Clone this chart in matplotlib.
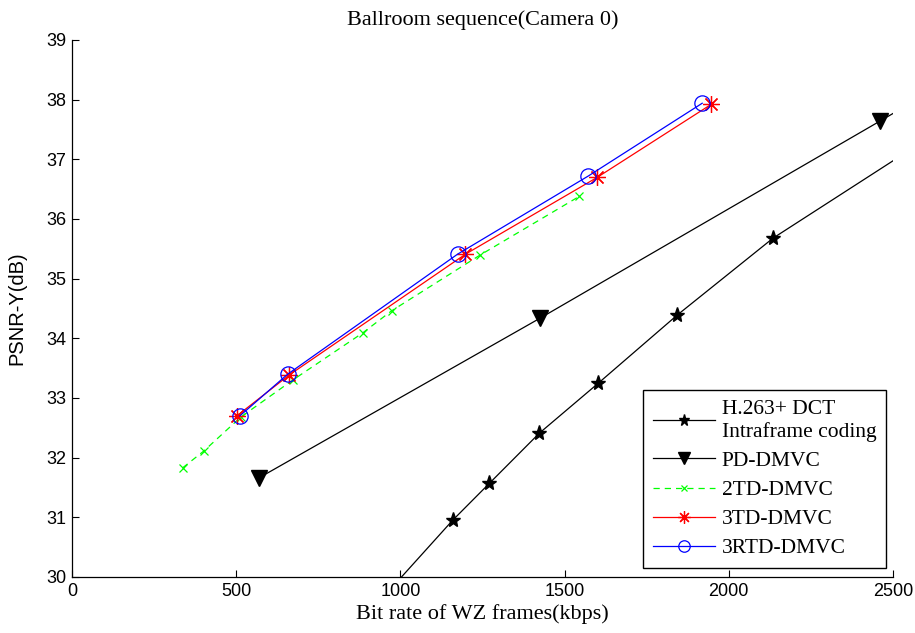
import matplotlib
matplotlib.use("Agg")
import matplotlib.pyplot as plt
from matplotlib import font_manager

# ---- data ----
h263_x = [900, 1159, 1271, 1423, 1603, 1843, 2135, 2600]
h263_y = [29.37, 30.95, 31.57, 32.41, 33.25, 34.39, 35.68, 37.33]

pd_x = [569, 1426, 2460, 2700]
pd_y = [31.66, 34.34, 37.64, 38.41]

td2_x = [337, 401, 514, 672, 885, 973, 1241, 1545]
td2_y = [31.83, 32.11, 32.68, 33.30, 34.09, 34.46, 35.39, 36.38]

td3_x = [502, 660, 1198, 1600, 1946]
td3_y = [32.70, 33.38, 35.41, 36.70, 37.92]

rtd3_x = [511, 657, 1174, 1572, 1919]
rtd3_y = [32.70, 33.40, 35.41, 36.72, 37.94]

labels = ["H.263+ DCT\nIntraframe coding", "PD-DMVC", "2TD-DMVC", "3TD-DMVC", "3RTD-DMVC"]
xticks = [0, 500, 1000, 1500, 2000, 2500]
yticks = [30, 31, 32, 33, 34, 35, 36, 37, 38, 39]

avail = {f.name for f in font_manager.fontManager.ttflist}
tick_font = "Liberation Sans Narrow" if "Liberation Sans Narrow" in avail else "Liberation Sans"
serif = "Liberation Serif"

fig = plt.figure(figsize=(9.15, 6.33), dpi=100)
ax = fig.add_axes([72/915, 1-577/633, (893-72)/915, (577-40)/633])

lw = 0.9
ax.plot(h263_x, h263_y, color="black", lw=lw, marker="*", ms=11, mfc="black", mec="black", label=labels[0])
ax.plot(pd_x, pd_y, color="black", lw=lw, marker="v", ms=11, mfc="black", mec="black", label=labels[1])
ax.plot(td2_x, td2_y, color="#00ff00", lw=lw, ls=(0, (5, 4)), marker="x", ms=6, mew=0.9, label=labels[2])
ax.plot(td3_x, td3_y, color="red", lw=lw, marker=(8, 2, 0), ms=12, mew=0.9, label=labels[3])
ax.plot(rtd3_x, rtd3_y, color="blue", lw=lw, marker="o", ms=11, mfc="none", mec="blue", mew=0.9, label=labels[4])

ax.set_xlim(0, 2500)
ax.set_ylim(30, 39)
ax.set_xticks(xticks)
ax.set_yticks(yticks)
ax.set_xticklabels([str(v) for v in xticks], fontfamily=tick_font, fontsize=13)
ax.set_yticklabels([str(v) for v in yticks], fontfamily=tick_font, fontsize=13)
ax.tick_params(direction="in", length=5, width=0.8, pad=4)
for s in ["top", "right"]:
    ax.spines[s].set_visible(False)
for s in ["left", "bottom"]:
    ax.spines[s].set_linewidth(0.9)

ax.set_title("Ballroom sequence(Camera 0)", fontfamily=serif, fontsize=16, pad=11)
ax.set_xlabel("Bit rate of WZ frames(kbps)", fontfamily=serif, fontsize=16, labelpad=3)
ax.set_ylabel("PSNR-Y(dB)", fontfamily="Liberation Sans", fontsize=14.5, labelpad=14)

leg = ax.legend(loc="lower right", bbox_to_anchor=(1.0 - 7/821, 9/537), prop={"family": serif, "size": 15.5},
                frameon=True, fancybox=False, edgecolor="black", framealpha=1,
                handlelength=2.9, handletextpad=0.3, labelspacing=0.42, borderpad=0.45,
                borderaxespad=0, markerscale=0.75)
leg.get_frame().set_linewidth(1.0)

fig.savefig("out.png", dpi=100)
